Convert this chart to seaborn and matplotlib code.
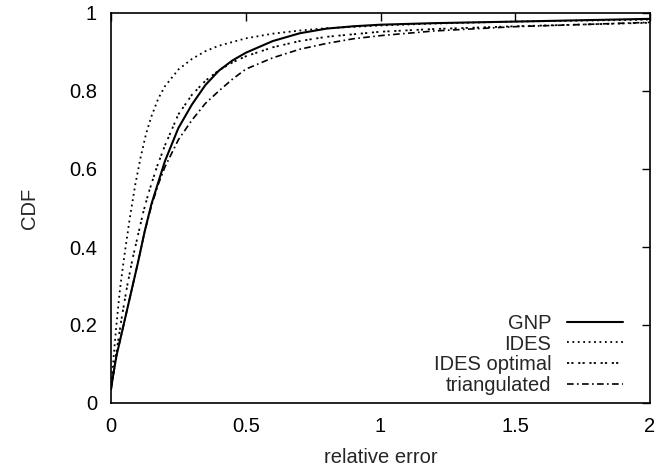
import numpy as np
import pandas as pd
import matplotlib
matplotlib.use("Agg")
import matplotlib.pyplot as plt
import seaborn as sns

# values
gnp_x = [0, 0.01, 0.02, 0.035, 0.05, 0.075, 0.1, 0.125, 0.15, 0.175, 0.2, 0.25, 0.3, 0.35, 0.4, 0.45,
         0.5, 0.6, 0.7, 0.8, 0.9, 1.0, 1.2, 1.5, 2.0]
gnp_y = [0.035, 0.08, 0.12, 0.165, 0.21, 0.285, 0.36, 0.44, 0.51, 0.565, 0.62, 0.705, 0.765, 0.815, 0.852,
         0.878, 0.898, 0.928, 0.948, 0.960, 0.966, 0.970, 0.974, 0.978, 0.985]

ides_x = [0, 0.01, 0.02, 0.033, 0.05, 0.07, 0.09, 0.11, 0.13, 0.15, 0.175, 0.2, 0.25, 0.3, 0.35, 0.4,
          0.5, 0.6, 0.7, 0.8, 1.0, 1.2, 1.5, 2.0]
ides_y = [0.035, 0.12, 0.2, 0.29, 0.38, 0.475, 0.56, 0.63, 0.69, 0.735, 0.78, 0.812, 0.855, 0.882, 0.902,
          0.916, 0.935, 0.947, 0.955, 0.961, 0.968, 0.973, 0.978, 0.983]

opt_x = [0, 0.02, 0.04, 0.06, 0.08, 0.1, 0.12, 0.14, 0.17, 0.2, 0.25, 0.3, 0.35, 0.4, 0.45, 0.5,
         0.6, 0.7, 0.8, 1.0, 1.2, 1.5, 2.0]
opt_y = [0.035, 0.13, 0.22, 0.30, 0.37, 0.43, 0.49, 0.54, 0.605, 0.66, 0.74, 0.79, 0.826, 0.853, 0.873,
         0.889, 0.912, 0.928, 0.939, 0.952, 0.959, 0.966, 0.975]

tri_x = [0, 0.02, 0.05, 0.075, 0.1, 0.125, 0.15, 0.175, 0.2, 0.25, 0.3, 0.35, 0.4, 0.45, 0.5,
         0.6, 0.7, 0.8, 0.9, 1.0, 1.2, 1.5, 2.0]
tri_y = [0.035, 0.12, 0.21, 0.285, 0.36, 0.44, 0.505, 0.56, 0.605, 0.675, 0.725, 0.768, 0.80, 0.83, 0.856,
         0.885, 0.907, 0.922, 0.934, 0.942, 0.954, 0.965, 0.976]

series = [
    ("GNP", gnp_x, gnp_y, "-", 1.5),
    ("IDES", ides_x, ides_y, (0, (1, 2)), 1.3),
    ("IDES optimal", opt_x, opt_y, (0, (1.2, 1.2, 1.2, 2.6)), 1.3),
    ("triangulated", tri_x, tri_y, (0, (4, 2, 1, 2)), 1.2),
]

sns.set_style("white")
plt.rcParams['font.family'] = ['Liberation Sans', 'DejaVu Sans']

fig = plt.figure(figsize=(6.57, 4.68), dpi=100)
ax = fig.add_axes([111 / 657, 1 - 403 / 468, 539 / 657, 390 / 468])

for name, xs, ys, ls, lw in series:
    df = pd.DataFrame({"x": xs, "y": ys})
    sns.lineplot(data=df, x="x", y="y", ax=ax, color="black", linestyle=ls,
                 linewidth=lw, label=name, sort=False)

ax.set_xlim(0, 2)
ax.set_ylim(0, 1)
ax.set_xticks([0, 0.5, 1, 1.5, 2])
ax.set_xticklabels(["0", "0.5", "1", "1.5", "2"])
ax.set_yticks([0, 0.2, 0.4, 0.6, 0.8, 1])
ax.set_yticklabels(["0", "0.2", "0.4", "0.6", "0.8", "1"])
ax.tick_params(direction="in", length=6, width=1, top=True, right=True,
               labelsize=14.5, pad=10, colors="black")
for s in ax.spines.values():
    s.set_color("black")
    s.set_linewidth(1.2)

ax.set_xlabel("relative error", fontsize=14.5, labelpad=9)
ax.set_ylabel("CDF", fontsize=14.5, labelpad=22)

ax.legend(loc="lower right", frameon=False, markerfirst=False, fontsize=14.5,
          handlelength=2.8, handletextpad=0.75, labelspacing=0.08,
          borderaxespad=0.3, bbox_to_anchor=(0.976, -0.015))

fig.savefig("out.png", dpi=100)
